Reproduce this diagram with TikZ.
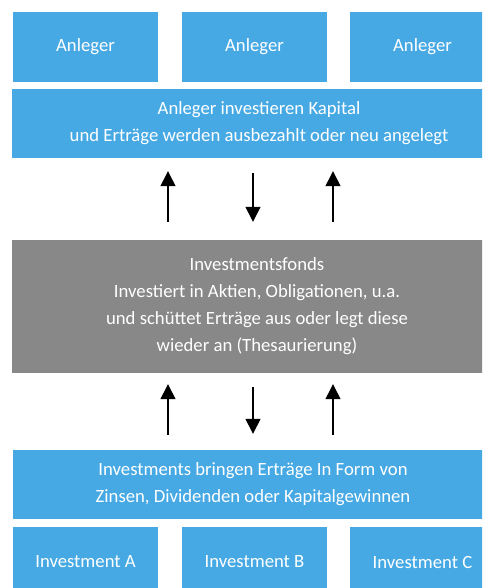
\documentclass[tikz,border=0pt]{standalone}
\usepackage{fontspec}
\setmainfont{Carlito}
\definecolor{boxblue}{RGB}{71,169,228}
\definecolor{fondsgray}{RGB}{136,136,136}
\usetikzlibrary{arrows.meta,positioning}

\tikzset{
    box/.style={rectangle, fill=boxblue, text=white, align=center, inner sep=0pt,
        font=\fontsize{18.7}{27}\selectfont},
    smallbox/.style={box, minimum width=145pt, minimum height=70pt},
    flow/.style={line width=1.4pt, -{Triangle[width=15pt,length=15pt]}}
}

\begin{document}
\begin{tikzpicture}[x=1pt, y=-1pt]
    \path[use as bounding box, clip] (0,0) rectangle (482,588);

    % Anleger
    \node[smallbox] (anl1) at (85.5,47) {Anleger};
    \node[smallbox] (anl2) at (254.5,47) {Anleger};
    \node[smallbox] (anl3) at (422.5,47) {Anleger};

    \node[box, minimum width=494pt, minimum height=69pt] (kapital) at (259,123.5)
        {Anleger investieren Kapital\\und Erträge werden ausbezahlt oder neu angelegt};

    % Fonds
    \node[box, fill=fondsgray, minimum width=490pt, minimum height=133pt] (fonds) at (257,306.5)
        {Investmentsfonds\\Investiert in Aktien, Obligationen, u.a.\\und schüttet Erträge aus oder legt diese\\wieder an (Thesaurierung)};

    % Investments
    \node[box, minimum width=480pt, minimum height=69pt] (ertrag) at (253,484.5)
        {Investments bringen Erträge In Form von\\Zinsen, Dividenden oder Kapitalgewinnen};

    \node[smallbox] (invA) at (85.5,562) {Investment A};
    \node[smallbox] (invB) at (254.5,562) {Investment B};
    \node[smallbox] (invC) at (422.5,562) {Investment C};

    % Arrows
    \coordinate (left) at (168,0);
    \coordinate (mid) at (253,0);
    \coordinate (right) at (333,0);

    \draw[flow, shorten <=18pt, shorten >=13pt] (fonds.north -| left) -- (kapital.south -| left);
    \draw[flow, shorten <=15pt, shorten >=18pt] (kapital.south -| mid) -- (fonds.north -| mid);
    \draw[flow, shorten <=18pt, shorten >=13pt] (fonds.north -| right) -- (kapital.south -| right);

    \draw[flow, shorten <=15pt, shorten >=11pt] (ertrag.north -| left) -- (fonds.south -| left);
    \draw[flow, shorten <=14pt, shorten >=16pt] (fonds.south -| mid) -- (ertrag.north -| mid);
    \draw[flow, shorten <=15pt, shorten >=11pt] (ertrag.north -| right) -- (fonds.south -| right);
\end{tikzpicture}
\end{document}
